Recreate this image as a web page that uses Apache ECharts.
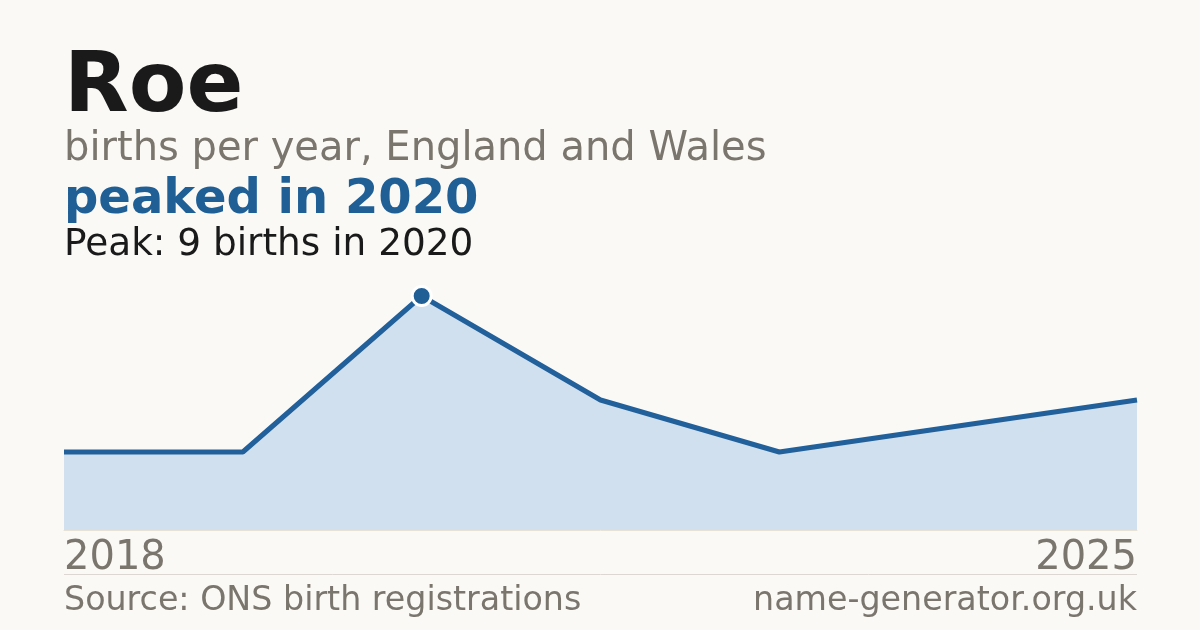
<!DOCTYPE html>
<html>
<head>
<meta charset="utf-8">
<script src="https://cdn.jsdelivr.net/npm/echarts@6/dist/echarts.min.js"></script>
<style>
html,body{margin:0;padding:0;background:#faf9f5;}
#c{width:1200px;height:630px;}
</style>
</head>
<body>
<div id="c"></div>
<script>
const years = ["2018","2019","2020","2021","2022","2023","2025"];
const births = [3, 3, 9, 5, 3, 4, 5];
const titleText = "Roe";
const subtitleText = "births per year, England and Wales";
const headlineText = "peaked in 2020";
const peakText = "Peak: 9 births in 2020";
const sourceText = "Source: ONS birth registrations";
const siteText = "name-generator.org.uk";

const FONT = "DejaVu Sans";
const BLUE = "#21609a";
const GRAY = "#7a756d";
const peakIdx = births.indexOf(Math.max(...births));
const peakData = births.map((v, i) => i === peakIdx ? v : null);

const chart = echarts.init(document.getElementById('c'), null, {renderer: 'canvas'});
chart.setOption({
  backgroundColor: '#faf9f5',
  animation: false,
  grid: {left: 64, right: 63, top: 296, bottom: 100, containLabel: false},
  xAxis: {
    type: 'category',
    data: years,
    boundaryGap: false,
    axisLine: {show: true, lineStyle: {color: '#e8e1d6', width: 1}},
    axisTick: {show: false},
    splitLine: {show: false},
    axisLabel: {
      interval: (i) => i === 0 || i === years.length - 1,
      color: GRAY,
      fontFamily: FONT,
      fontSize: 40,
      margin: 9,
      alignMinLabel: 'left',
      alignMaxLabel: 'right'
    }
  },
  yAxis: {
    type: 'value', min: 0, max: 9,
    show: false,
    splitLine: {show: false}
  },
  series: [
    {
      type: 'line',
      data: births,
      symbol: 'none',
      clip: false,
      lineStyle: {color: BLUE, width: 5},
      areaStyle: {color: '#d0e0ef', opacity: 1},
      z: 2
    },
    {
      type: 'scatter',
      data: peakData,
      symbol: 'circle',
      symbolSize: 19,
      clip: false,
      itemStyle: {color: '#1f5f96', borderColor: '#ffffff', borderWidth: 3, opacity: 1},
      z: 3
    }
  ],
  graphic: [
    {type: 'text', left: 64, top: 47, style: {text: titleText, fill: '#1a1a1a', font: 'bold 84px "DejaVu Sans"'}},
    {type: 'text', left: 64, top: 130, style: {text: subtitleText, fill: GRAY, font: '40px "DejaVu Sans"'}},
    {type: 'text', left: 64, top: 177, style: {text: headlineText, fill: '#1f5f96', font: 'bold 48px "DejaVu Sans"'}},
    {type: 'text', left: 64, top: 227, style: {text: peakText, fill: '#1a1a1a', font: '37.4px "DejaVu Sans"'}},
    {type: 'line', shape: {x1: 64, y1: 574.5, x2: 1137, y2: 574.5}, style: {stroke: '#dcd8d1', lineWidth: 1}},
    {type: 'text', left: 64, top: 585, style: {text: sourceText, fill: GRAY, font: '33.3px "DejaVu Sans"'}},
    {type: 'text', right: 63, top: 585, style: {text: siteText, fill: GRAY, font: '33.3px "DejaVu Sans"'}}
  ]
});
</script>
</body>
</html>
